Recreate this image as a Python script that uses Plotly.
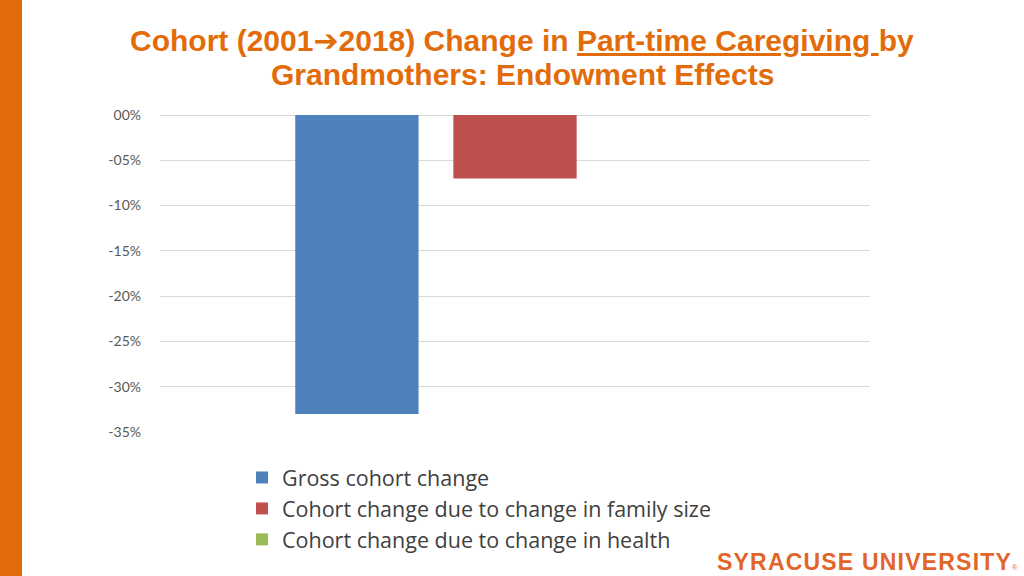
import plotly.graph_objects as go

categories = ["Endowment effects"]
series_names = ["Gross cohort change",
                "Cohort change due to change in family size",
                "Cohort change due to change in health"]
series_values = [[-0.33], [-0.07], [0.0]]
series_colors = ["#4F81BD", "#C0504D", "#9BBB59"]
tick_vals = [0, -0.05, -0.10, -0.15, -0.20, -0.25, -0.30, -0.35]
tick_text = ["00%", "-05%", "-10%", "-15%", "-20%", "-25%", "-30%", "-35%"]
title_lines = ["<b>Cohort (2001<span style='font-family:DejaVu Sans'>➔</span>2018) Change in "
               "<u>Part-time Caregiving </u>by</b>",
               "<b>Grandmothers: Endowment Effects</b>"]
logo_text = ("<span style='letter-spacing:1.2px'><b>SYRACUSE UNIVERSITY</b></span>"
             "<span style='font-size:7px'>®</span>")

W, H = 1024, 576
L, R, T, B = 160, 154, 115, 144
pw, ph = W - L - R, H - T - B

fig = go.Figure()
for name, vals, col in zip(series_names, series_values, series_colors):
    fig.add_trace(go.Bar(x=categories, y=vals, name=name, marker_color=col,
                         marker_line_width=0))

def px_x(p):
    return (p - L) / pw

def px_y(p):
    return (H - B - p) / ph

orange = "#E36C0A"
fig.add_shape(type="rect", xref="paper", yref="paper",
              x0=px_x(0), x1=px_x(22), y0=px_y(576), y1=px_y(0),
              fillcolor=orange, line_width=0, layer="below")

for line, ypix in zip(title_lines, [41, 75]):
    fig.add_annotation(xref="paper", yref="paper", x=px_x(522), y=px_y(ypix),
                       xanchor="center", yanchor="middle", showarrow=False,
                       text=line,
                       font=dict(family="Liberation Sans, Arial", size=30, color=orange))

fig.add_annotation(xref="paper", yref="paper", x=px_x(1020), y=px_y(577),
                   xanchor="right", yanchor="bottom", showarrow=False,
                   text=logo_text,
                   font=dict(family="Liberation Sans, Arial", size=23, color="#E2652A"))

fig.update_layout(
    width=W, height=H,
    margin=dict(l=L, r=R, t=T, b=B, autoexpand=False),
    paper_bgcolor="white", plot_bgcolor="white",
    barmode="group", bargap=0.332, bargroupgap=0.22,
    showlegend=True,
    legend=dict(x=px_x(242), y=px_y(457), xanchor="left", yanchor="top",
                orientation="v", traceorder="normal",
                font=dict(family="Open Sans", size=21.5, color="#404040"),
                itemwidth=30, tracegroupgap=0, bgcolor="rgba(0,0,0,0)"),
    xaxis=dict(showticklabels=False, showgrid=False, zeroline=False, showline=False,
               ticks=""),
    yaxis=dict(range=[-0.35, 0], tickvals=tick_vals, ticktext=tick_text,
               showgrid=True, gridcolor="#D9D9D9", gridwidth=1,
               zeroline=True, zerolinecolor="#D9D9D9", zerolinewidth=1,
               showline=False, ticks="", ticklabelstandoff=18,
               tickfont=dict(family="Lato, Open Sans", size=14, color="#595959")),
)

fig.write_html("out.html", config={"displayModeBar": False},
               post_script="document.body.style.margin='0';document.body.style.overflow='hidden';")
